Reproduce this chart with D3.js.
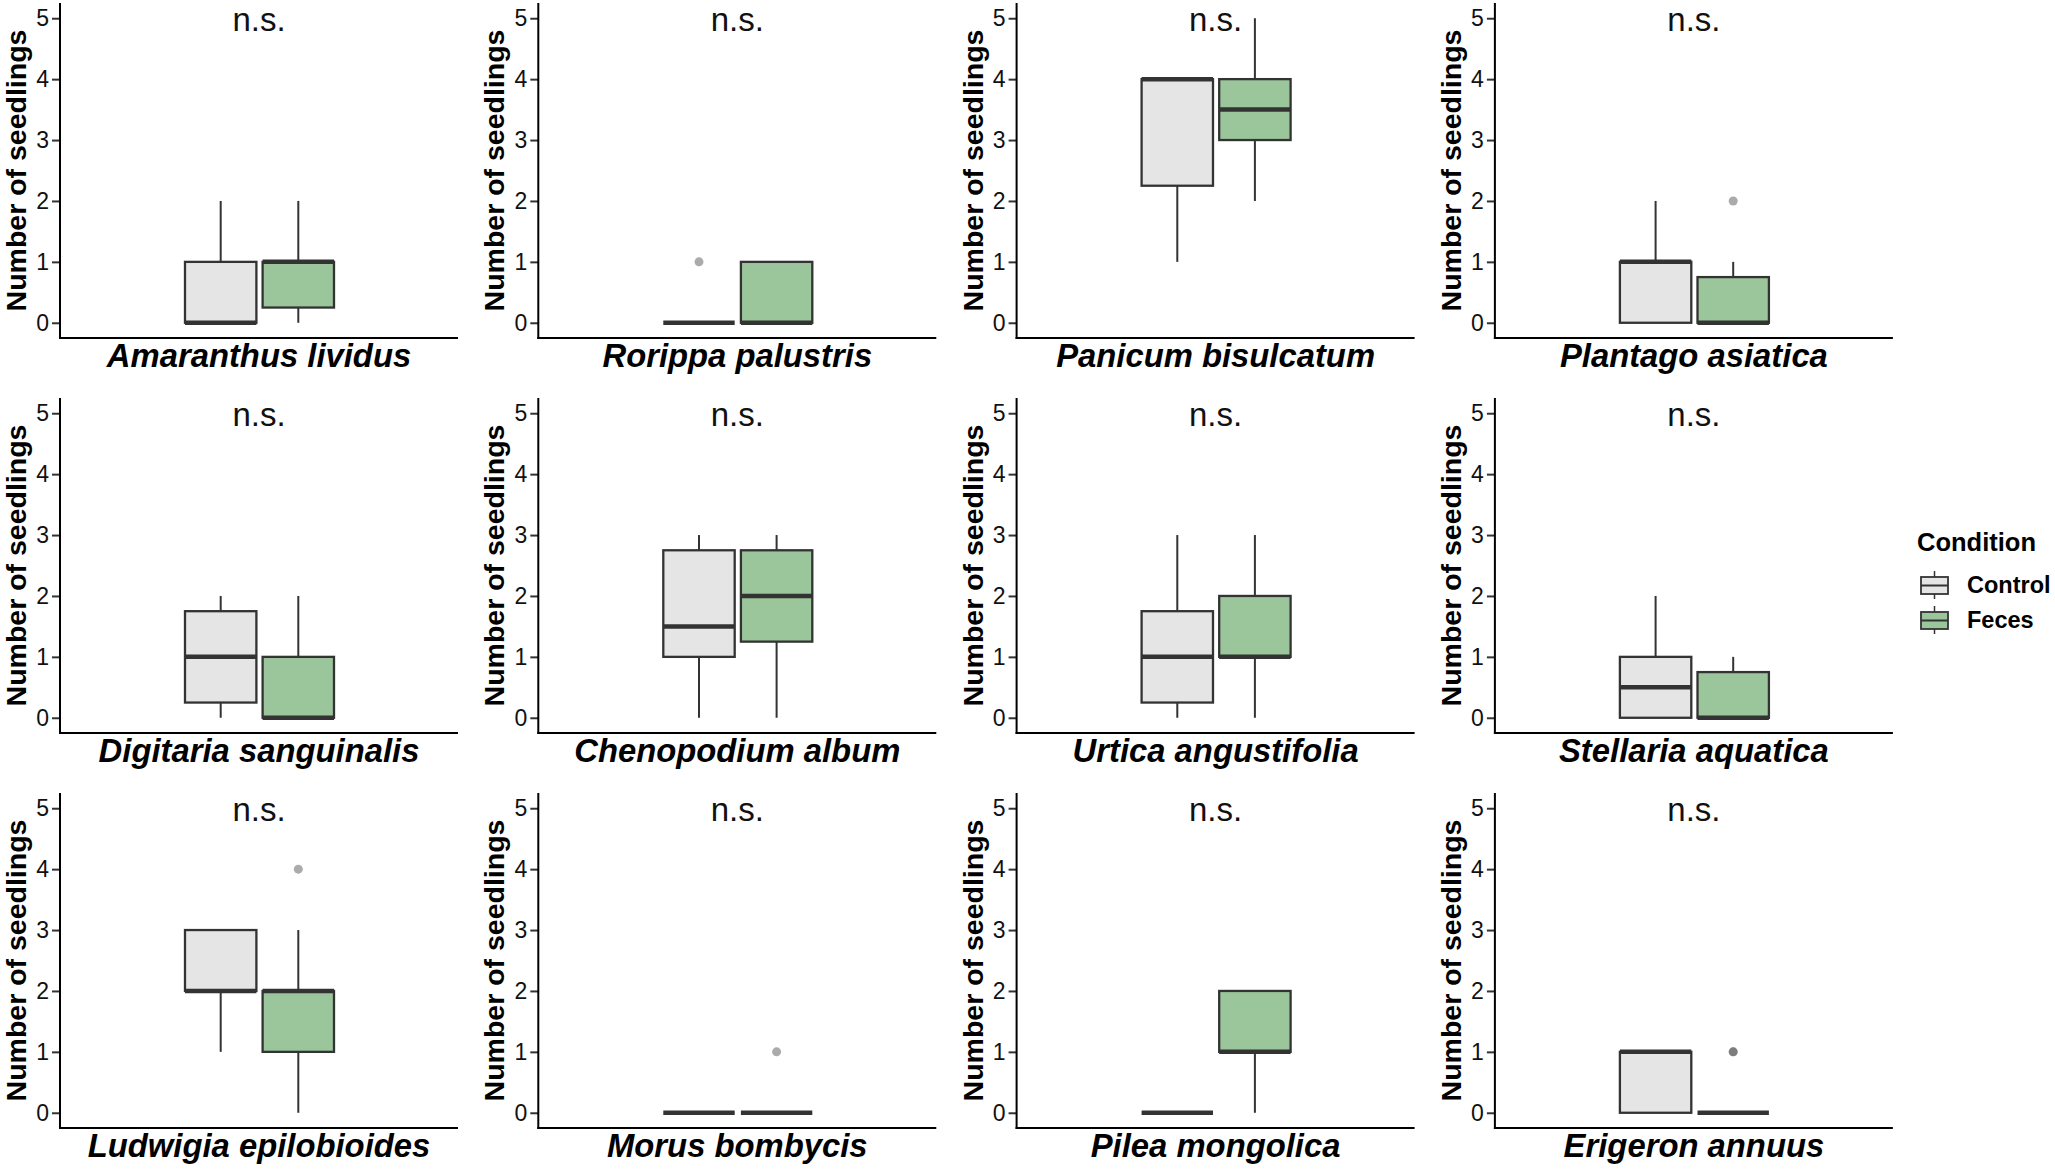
<!DOCTYPE html>
<html>
<head>
<meta charset="utf-8">
<script src="https://cdn.jsdelivr.net/npm/d3@7"></script>
<style>
  body { margin: 0; background: #fff; }
  svg { display: block; font-family: "Liberation Sans", Arial, Helvetica, sans-serif; }
</style>
</head>
<body>
<div id="chart"></div>
<script>
// species, one panel each (row by row)
const species = [
    "Amaranthus lividus", "Rorippa palustris", "Panicum bisulcatum", "Plantago asiatica",
    "Digitaria sanguinalis", "Chenopodium album", "Urtica angustifolia", "Stellaria aquatica",
    "Ludwigia epilobioides", "Morus bombycis", "Pilea mongolica", "Erigeron annuus"
];
const conditions = ["Control", "Feces"];
const sigLabels = ["n.s.", "n.s.", "n.s.", "n.s.", "n.s.", "n.s.", "n.s.", "n.s.", "n.s.", "n.s.", "n.s.", "n.s."];

// box stats: [lower whisker, Q1, median, Q3, upper whisker]
const controlStats = [
    [0, 0, 0, 1, 2],
    [0, 0, 0, 0, 0],
    [1, 2.25, 4, 4, 4],
    [0, 0, 1, 1, 2],
    [0, 0.25, 1, 1.75, 2],
    [0, 1, 1.5, 2.75, 3],
    [0, 0.25, 1, 1.75, 3],
    [0, 0, 0.5, 1, 2],
    [1, 2, 2, 3, 3],
    [0, 0, 0, 0, 0],
    [0, 0, 0, 0, 0],
    [0, 0, 1, 1, 1]
];
const fecesStats = [
    [0, 0.25, 1, 1, 2],
    [0, 0, 0, 1, 1],
    [2, 3, 3.5, 4, 5],
    [0, 0, 0, 0.75, 1],
    [0, 0, 0, 1, 2],
    [0, 1.25, 2, 2.75, 3],
    [0, 1, 1, 2, 3],
    [0, 0, 0, 0.75, 1],
    [0, 1, 2, 2, 3],
    [0, 0, 0, 0, 0],
    [0, 1, 1, 2, 2],
    [0, 0, 0, 0, 0]
];
const controlOutliers = [[], [1], [], [], [], [], [], [], [], [], [], []];
const fecesOutliers = [[], [], [], [2], [], [], [], [], [4], [1], [], [1, 1]];
const yTicks = [0, 1, 2, 3, 4, 5];

const colors = { Control: "#e5e5e5", Feces: "#9bc59a" };
const boxStroke = "#333333";

let width = 2055, height = 1169;

let svg = d3.select("#chart").append("svg")
    .attr("width", width)
    .attr("height", height);

svg.append("rect").attr("width", width).attr("height", height).attr("fill", "#fff");

// panel geometry
let panel = { left: 60, colStep: 478.3, rowStep: 395, w: 398, top: 3, bottom: 338 };

let y = d3.scaleLinear().domain([-0.25, 5.25]).range([panel.bottom, panel.top]);
let x = d3.scaleBand().domain(conditions).range([125, 274]).paddingInner(0.08);
let bw = x.bandwidth();

species.forEach((name, i) => {
    let col = i % 4, row = Math.floor(i / 4);
    let g = svg.append("g")
        .attr("transform", `translate(${panel.left + col * panel.colStep}, ${row * panel.rowStep})`);

    // y axis
    let yAxis = d3.axisLeft(y).tickValues(yTicks).tickFormat(d3.format("d")).tickSize(8).tickPadding(3);
    let ya = g.append("g").call(yAxis);
    ya.select(".domain").remove();
    ya.selectAll(".tick line").attr("stroke", "#333").attr("stroke-width", 2);
    ya.selectAll(".tick text")
        .attr("font-size", 23).attr("fill", "#111")
        .attr("font-family", "'Liberation Sans', Arial, sans-serif");

    g.append("line")
        .attr("x1", 0).attr("x2", 0)
        .attr("y1", panel.top).attr("y2", panel.bottom + 1)
        .attr("stroke", "#000").attr("stroke-width", 2);
    g.append("line")
        .attr("x1", -1).attr("x2", panel.w)
        .attr("y1", panel.bottom).attr("y2", panel.bottom)
        .attr("stroke", "#000").attr("stroke-width", 2);

    // y title
    g.append("text")
        .attr("transform", `translate(-34, ${(panel.top + panel.bottom) / 2}) rotate(-90)`)
        .attr("text-anchor", "middle")
        .attr("font-size", 28.5)
        .attr("font-weight", "bold")
        .attr("fill", "#000")
        .text("Number of seedlings");

    // species label
    g.append("text")
        .attr("x", panel.w / 2)
        .attr("y", 367)
        .attr("text-anchor", "middle")
        .attr("font-size", 32.8)
        .attr("font-weight", "bold")
        .attr("font-style", "italic")
        .attr("fill", "#000")
        .text(name);

    // significance label
    g.append("text")
        .attr("x", panel.w / 2)
        .attr("y", 31)
        .attr("text-anchor", "middle")
        .attr("font-size", 33)
        .attr("fill", "#111")
        .text(sigLabels[i]);

    // boxes
    conditions.forEach(cond => {
        let s = cond === "Control" ? controlStats[i] : fecesStats[i];
        let outs = cond === "Control" ? controlOutliers[i] : fecesOutliers[i];
        let x0 = x(cond), cx = x0 + bw / 2;

        if (s[4] > s[3]) {
            g.append("line").attr("x1", cx).attr("x2", cx)
                .attr("y1", y(s[3])).attr("y2", y(s[4]))
                .attr("stroke", boxStroke).attr("stroke-width", 2);
        }
        if (s[0] < s[1]) {
            g.append("line").attr("x1", cx).attr("x2", cx)
                .attr("y1", y(s[1])).attr("y2", y(s[0]))
                .attr("stroke", boxStroke).attr("stroke-width", 2);
        }
        g.append("rect")
            .attr("x", x0).attr("y", y(s[3]))
            .attr("width", bw).attr("height", y(s[1]) - y(s[3]))
            .attr("fill", colors[cond])
            .attr("stroke", boxStroke).attr("stroke-width", 2.3);
        g.append("line")
            .attr("x1", x0).attr("x2", x0 + bw)
            .attr("y1", y(s[2])).attr("y2", y(s[2]))
            .attr("stroke", boxStroke).attr("stroke-width", 4.5);

        g.selectAll(null)
            .data(outs)
            .enter()
            .append("circle")
            .attr("cx", cx).attr("cy", d => y(d))
            .attr("r", 4.5)
            .attr("fill", "#444")
            .attr("fill-opacity", 0.45);
    });
});

// legend
let legend = svg.append("g").attr("transform", "translate(1917, 551)");
legend.append("text")
    .attr("x", 0).attr("y", 0)
    .attr("font-size", 25.5).attr("font-weight", "bold").attr("fill", "#000")
    .text("Condition");

conditions.forEach((cond, k) => {
    let item = legend.append("g").attr("transform", `translate(4, ${26 + k * 35})`);
    item.append("line").attr("x1", 13.5).attr("x2", 13.5).attr("y1", -6).attr("y2", 22)
        .attr("stroke", boxStroke).attr("stroke-width", 1.5);
    item.append("rect").attr("x", 0).attr("y", 0).attr("width", 27).attr("height", 17)
        .attr("fill", colors[cond]).attr("stroke", boxStroke).attr("stroke-width", 1.8);
    item.append("line").attr("x1", 0).attr("x2", 27).attr("y1", 8.5).attr("y2", 8.5)
        .attr("stroke", boxStroke).attr("stroke-width", 2);
    item.append("text")
        .attr("x", 46).attr("y", 16)
        .attr("font-size", 23.5).attr("font-weight", "bold").attr("fill", "#000")
        .text(cond);
});
</script>
</body>
</html>
